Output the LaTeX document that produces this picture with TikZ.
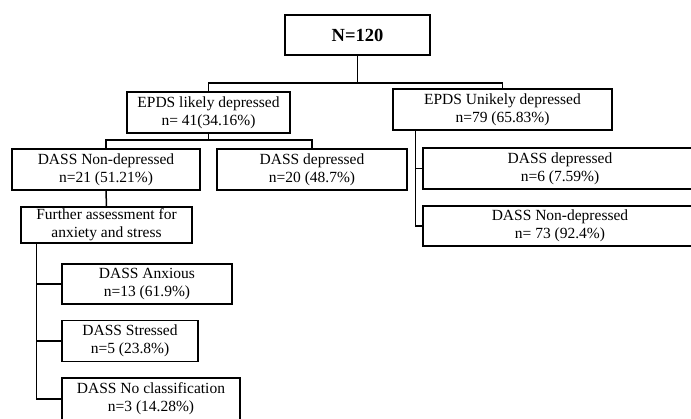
\documentclass[tikz,border=0pt]{standalone}
\usepackage{fontspec}
\setmainfont{Liberation Serif}
\usetikzlibrary{arrows,shapes}
\usetikzlibrary{positioning}
\tikzstyle{chart}=[x=1pt, y=-1pt, line width=1.5pt, every node/.style={draw=black,
                line width=1.5pt, align=center, inner sep=0pt, text=black,
                font=\fontsize{15.5}{18}\selectfont}]
\tikzstyle{head}=[font=\fontsize{18.5}{21}\selectfont\bfseries]

\begin{document}
\begin{tikzpicture}[chart]
  \path[use as bounding box] (0,0) rectangle (691,418);
  \clip (0,0) rectangle (691,418);
  \node[head, minimum width=145, minimum height=40] (total) at (357.5,35) {N=120};
  \node[minimum width=163, minimum height=41] (likely) at (208.5,112.5) {EPDS likely depressed\\n= 41(34.16\%)};
  \node[minimum width=219, minimum height=41] (unlikely) at (502.5,109.5) {EPDS Unikely depressed\\n=79 (65.83\%)};
  \node[minimum width=188, minimum height=41] (nondep) at (106,169.5) {DASS Non-depressed\\n=21 (51.21\%)};
  \node[minimum width=190, minimum height=41] (dep) at (312,169.5) {DASS depressed\\n=20 (48.7\%)};
  \node[minimum width=171, minimum height=36] (further) at (106.5,225) {Further assessment for\\anxiety and stress};
  \node[minimum width=170, minimum height=40] (anx) at (147,284) {DASS Anxious\\n=13 (61.9\%)};
  \node[minimum width=136, minimum height=41] (stress) at (130,341) {DASS Stressed\\n=5 (23.8\%)};
  \node[minimum width=178, minimum height=42] (nocl) at (151,399) {DASS No classification\\n=3 (14.28\%)};
  \node[minimum width=274, minimum height=41] (rdep) at (560,168.5) {DASS depressed\\n=6 (7.59\%)};
  \node[minimum width=274, minimum height=40] (rnondep) at (560,226) {DASS Non-depressed\\n= 73 (92.4\%)};
  \coordinate (ftrunk) at ([xshift=16]further.south west);
  \coordinate (utrunk) at ([xshift=23]unlikely.south west);
  \draw (total.south) -- ++(0,27) -| (likely.north);
  \draw (total.south) -- ++(0,27) -| (unlikely.north);
  \draw (likely.south) -- ++(0,6) -| (nondep.north);
  \draw (likely.south) -- ++(0,6) -| (dep.north);
  \draw (nondep.south) -- (further.north);
  \draw (ftrunk) |- (anx.west);
  \draw (ftrunk) |- (stress.west);
  \draw (ftrunk) |- (nocl.west);
  \draw (utrunk) |- (rdep.west);
  \draw (utrunk) |- (rnondep.west);
\end{tikzpicture}
\end{document}
